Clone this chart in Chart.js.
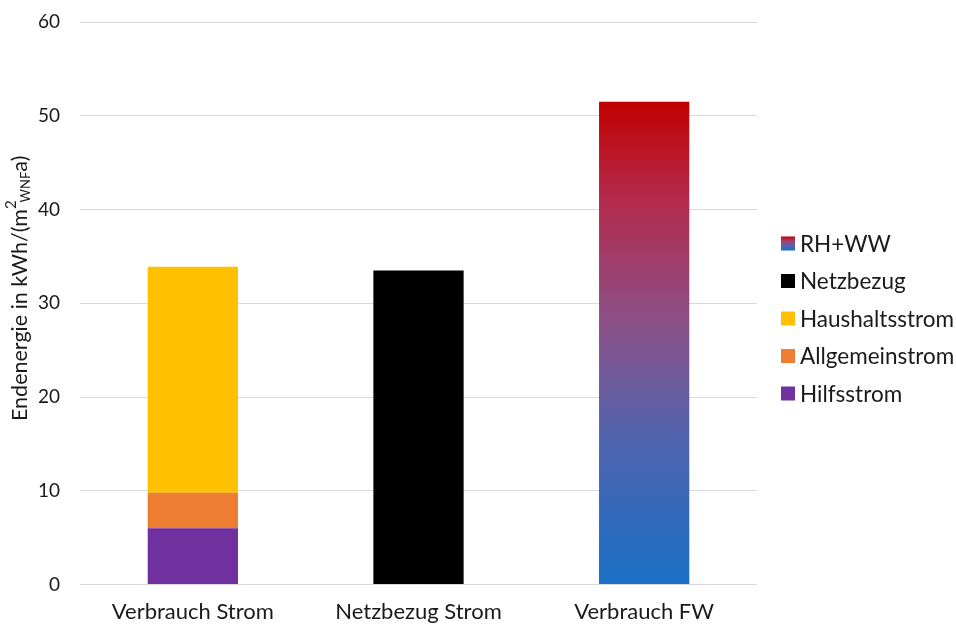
<!DOCTYPE html>
<html>
<head>
<meta charset="utf-8">
<script src="https://cdn.jsdelivr.net/npm/chart.js@4.4.1/dist/chart.umd.min.js"></script>
<style>
  html, body { margin: 0; padding: 0; background: #fff; }
  #wrap { width: 956px; height: 625px; }
</style>
</head>
<body>
<div id="wrap"><canvas id="c" width="956" height="625"></canvas></div>
<script>
// ---- Data ----
const categories = ['Verbrauch Strom', 'Netzbezug Strom', 'Verbrauch FW'];
const hilfsstrom = [6.0, null, null];
const allgemeinstrom = [3.8, null, null];
const haushaltsstrom = [24.1, null, null];
const netzbezug = [null, 33.5, null];
const rhww = [null, null, 51.5];
const yMin = 0, yMax = 60, yStep = 10;

const FONT = 'Lato, "Open Sans", sans-serif';
const TEXT = '#1a1a1a';

const gradStops = [
  [0.0, '#1870C6'],
  [0.3, '#5063AE'],
  [0.55, '#8C4F86'],
  [0.8, '#B52A4C'],
  [1.0, '#C00000']
];

function fwGradient(ctx) {
  const chart = ctx.chart;
  const { chartArea, scales } = chart;
  if (!chartArea) return '#8C4F86';
  const v = (ctx.raw != null) ? ctx.raw : yMax;
  const y0 = scales.y.getPixelForValue(0);
  const y1 = scales.y.getPixelForValue(v);
  const g = chart.ctx.createLinearGradient(0, y0, 0, y1);
  gradStops.forEach(([p, col]) => g.addColorStop(p, col));
  return g;
}

const datasets = [
  { label: 'Hilfsstrom', data: hilfsstrom, backgroundColor: '#7030A0' },
  { label: 'Allgemeinstrom', data: allgemeinstrom, backgroundColor: '#ED7D31' },
  { label: 'Haushaltsstrom', data: haushaltsstrom, backgroundColor: '#FFC000' },
  { label: 'Netzbezug', data: netzbezug, backgroundColor: '#000000' },
  { label: 'RH+WW', data: rhww, backgroundColor: fwGradient, swatchGradient: true }
];
datasets.forEach(d => { d.barPercentage = 0.4; d.categoryPercentage = 1.0; d.borderWidth = 0; });

// y-axis title with superscript/subscript
const yTitlePlugin = {
  id: 'yTitle',
  afterDraw(chart) {
    const c = chart.ctx;
    const { chartArea } = chart;
    const parts = [
      { t: 'Endenergie in kWh/(m', size: 21.5, dy: 0 },
      { t: '2', size: 15, dy: -9, back: 2 },
      { t: 'WNF', size: 13, dy: 6 },
      { t: 'a)', size: 21.5, dy: 0 }
    ];
    c.save();
    parts.forEach(p => { c.font = p.size + 'px ' + FONT; p.w = c.measureText(p.t).width - (p.back || 0); });
    const total = parts.reduce((s, p) => s + p.w, 0);
    const cx = 20, cy = (chartArea.top + chartArea.bottom) / 2 - 15;
    c.translate(cx, cy);
    c.rotate(-Math.PI / 2);
    c.fillStyle = TEXT;
    c.textBaseline = 'middle';
    c.textAlign = 'left';
    let x = -total / 2;
    parts.forEach(p => {
      c.font = p.size + 'px ' + FONT;
      c.fillText(p.t, x, p.dy);
      x += p.w;
    });
    c.restore();
  }
};

// legend on the right (reversed order), drawn next to the plot area
const legendPlugin = {
  id: 'sideLegend',
  afterDraw(chart) {
    const c = chart.ctx;
    const { chartArea } = chart;
    const items = chart.data.datasets.slice().reverse();
    const rowH = 37.5;
    const midY = chart.height / 2 + 6;
    const startY = midY - rowH * (items.length - 1) / 2;
    const boxX = chartArea.right + 24;
    const box = 14;
    c.save();
    c.font = '22.5px ' + FONT;
    c.textBaseline = 'middle';
    c.textAlign = 'left';
    items.forEach((d, i) => {
      const y = startY + i * rowH;
      if (d.swatchGradient) {
        const g = c.createLinearGradient(0, y + box / 2, 0, y - box / 2);
        gradStops.forEach(([p, col]) => g.addColorStop(p, col));
        c.fillStyle = g;
      } else {
        c.fillStyle = d.backgroundColor;
      }
      c.fillRect(boxX, y - box / 2, box, box);
      c.fillStyle = TEXT;
      c.fillText(d.label, boxX + box + 5, y + 1);
    });
    c.restore();
  }
};

new Chart(document.getElementById('c'), {
  type: 'bar',
  data: { labels: categories, datasets },
  options: {
    responsive: false,
    animation: false,
    layout: { padding: { top: 22, right: 199, left: 0, bottom: -14 } },
    scales: {
      x: {
        stacked: true,
        grid: { display: false, drawTicks: false },
        border: { display: false },
        ticks: { color: TEXT, font: { family: FONT, size: 22 }, padding: 14 }
      },
      y: {
        stacked: true,
        min: yMin, max: yMax,
        ticks: { stepSize: yStep, color: TEXT, font: { family: FONT, size: 19 }, padding: 20 },
        grid: { color: '#d9d9d9', lineWidth: 1, drawTicks: false },
        border: { display: false },
        afterFit(scale) { scale.width = 80; scale.paddingTop = 0; scale.paddingBottom = 0; }
      }
    },
    plugins: {
      tooltip: { enabled: false },
      legend: { display: false }
    }
  },
  plugins: [yTitlePlugin, legendPlugin]
});
</script>
</body>
</html>
